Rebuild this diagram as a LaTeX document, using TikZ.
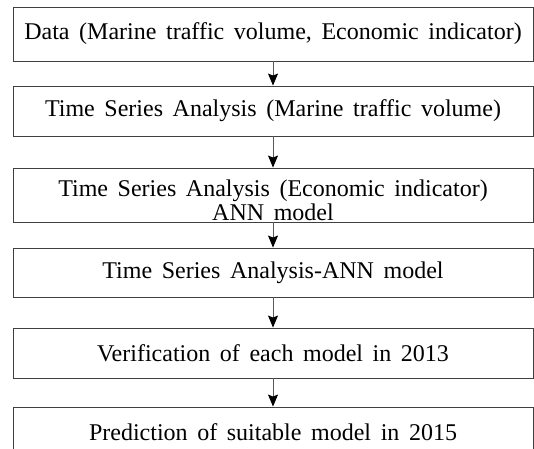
\documentclass[tikz,border=0pt]{standalone}
\usepackage{fontspec}
\setmainfont{Liberation Serif}[WordSpace=1.6]
\usetikzlibrary{arrows.meta}
\begin{document}
\begin{tikzpicture}[x=1pt, y=-1pt,
    caja/.style={draw=black!75, line width=0.9pt, minimum width=520pt,
                 inner sep=0pt, align=center,
                 font=\fontsize{24}{24}\selectfont},
    flecha/.style={draw=black!65, line width=0.9pt,
                   -{Stealth[length=12pt, width=10pt, inset=2pt, color=black]}}]
  \useasboundingbox (0,0) rectangle (534,448);

  % Cajas del flujo
  \node[caja, minimum height=54pt] (datos) at (273,34)
       {Data (Marine traffic volume, Economic indicator)};
  \node[caja, minimum height=50pt] (tsmar) at (273,111)
       {Time Series Analysis (Marine traffic volume)};
  \node[caja, minimum height=54pt] (tseco) at (273,195)
       {\rule{0pt}{27pt}Time Series Analysis (Economic indicator)\\ANN model};
  \node[caja, minimum height=49pt] (tsann) at (273,272.5)
       {Time Series Analysis-ANN model};
  \node[caja, minimum height=50pt] (verif) at (273,353)
       {Verification of each model in 2013};
  \node[caja, minimum height=50pt] (pred) at (273,432)
       {Prediction of suitable model in 2015};

  % Flechas entre cajas
  \foreach \a/\b in {datos/tsmar, tsmar/tseco, tseco/tsann,
                     tsann/verif, verif/pred} {
    \draw[flecha] (\a) -- (\b);
  }
\end{tikzpicture}
\end{document}
